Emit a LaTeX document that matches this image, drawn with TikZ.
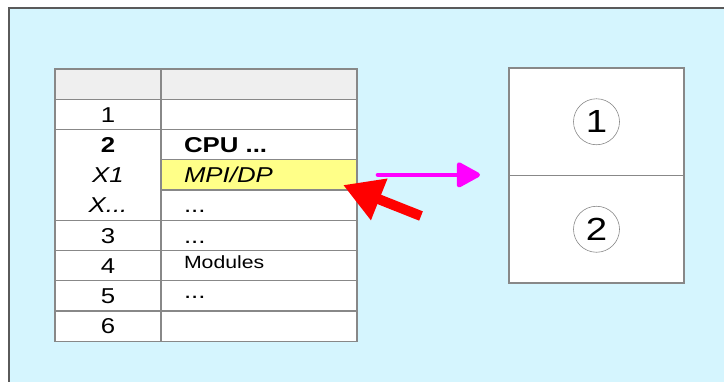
\documentclass[tikz,border=0pt]{standalone}
\usepackage{fontspec}
\setmainfont{Liberation Sans}[FakeStretch=1.2]
\usepackage{tikz}
\usetikzlibrary{positioning, calc, arrows.meta}
\usepackage{xcolor}
\definecolor{panelbg}{RGB}{213,245,254}
\definecolor{panelframe}{RGB}{90,90,90}
\definecolor{gridgray}{RGB}{136,136,136}
\definecolor{headgray}{RGB}{239,239,239}
\definecolor{markyellow}{RGB}{255,255,136}
\definecolor{linkpink}{RGB}{255,0,255}
\definecolor{hintred}{RGB}{255,0,0}
\newcommand{\tabfont}{\fontsize{21.5}{24}\selectfont}

\begin{document}
\begin{tikzpicture}[
        x=1pt, y=-1pt,
        every node/.style={inner sep=0pt, outer sep=0pt},
        cellA/.style={rectangle, draw=gridgray, line width=1.2pt, fill=white, minimum width=106pt, minimum height=30.25pt, font=\tabfont, text height=15.5pt, text depth=0pt},
        cellB/.style={cellA, minimum width=196pt},
        slot/.style={rectangle, draw=gridgray, line width=1.2pt, fill=white, minimum width=175pt, minimum height=107.5pt},
        num/.style={circle, draw=gridgray, line width=0.6pt, minimum size=46pt, font=\fontsize{32}{36}\selectfont},
        txt/.style={font=\tabfont, text height=15.5pt, text depth=0pt},
        smalltxt/.style={font=\fontsize{17.7}{20}\selectfont, text height=12.7pt, text depth=0pt},
        pinkarrow/.style={draw=linkpink, line width=4.7pt, line cap=round, -{Triangle[length=26pt, width=27pt, round]}},
        redarrow/.style={draw=hintred, line width=10pt, -{Triangle[length=39pt, width=42pt]}}
    ]
        \useasboundingbox (0,0) rectangle (724,381);
        \draw[draw=panelframe, fill=panelbg, line width=1.5pt] (9,8) rectangle (740,400);

        % table
        \node [cellA, fill=headgray, anchor=north west] (hdrA) at (55,69) {};
        \node [cellB, fill=headgray, right=0pt of hdrA] (hdrB) {};
        \node [cellA, below=0pt of hdrA] (rowA1) {1};
        \node [cellB, below=0pt of hdrB] (rowB1) {};
        \node [cellA, minimum height=90.75pt, below=0pt of rowA1] (rowA2) {};
        \node [cellB, below=0pt of rowB1] (cpu) {};
        \node [cellB, fill=markyellow, below=0pt of cpu] (mpi) {};
        \node [cellB, below=0pt of mpi] (xdots) {};
        \node [cellA, below=0pt of rowA2] (rowA3) {3};
        \node [cellB, below=0pt of xdots] (rowB3) {};
        \node [cellA, below=0pt of rowA3] (rowA4) {4};
        \node [cellB, below=0pt of rowB3] (rowB4) {};
        \node [cellA, below=0pt of rowA4] (rowA5) {5};
        \node [cellB, below=0pt of rowB4] (rowB5) {};
        \node [cellA, below=0pt of rowA5] (rowA6) {6};
        \node [cellB, below=0pt of rowB5] (rowB6) {};

        \node [txt, font=\tabfont\bfseries] (slotNo) at (rowA2 |- cpu) {2};
        \node [txt, font=\tabfont\itshape] (portX1) at (rowA2 |- mpi) {X1};
        \node [txt, font=\tabfont\itshape] (portXn) at (rowA2 |- xdots) {X...};

        \node [txt, anchor=west, font=\tabfont\bfseries] (cpuText) at ([xshift=23pt]cpu.west) {CPU ...};
        \node [txt, anchor=west, font=\tabfont\itshape] (mpiText) at ([xshift=23pt]mpi.west) {MPI/DP};
        \node [txt, anchor=west] (xdotsText) at ([xshift=23pt]xdots.west) {...};
        \node [txt, anchor=west] (row3Text) at ([xshift=23pt]rowB3.west) {...};
        \node [smalltxt, anchor=west, yshift=3.3pt] (modText) at ([xshift=23pt]rowB4.west) {Modules};
        \node [txt, anchor=west, yshift=5pt] (row5Text) at ([xshift=23pt]rowB5.west) {...};

        % slots
        \node [slot, anchor=north west] (slot1) at (509,68) {};
        \node [slot, below=0pt of slot1] (slot2) {};
        \node [num] (num1) at (slot1) {1};
        \node [num] (num2) at (slot2) {2};

        % arrows
        \coordinate (pinkFrom) at ($(mpi.east)+(21,0)$);
        \coordinate (pinkTo) at ($(mpi.east -| slot1.west)+(-29,0)$);
        \coordinate (redTail) at ($(mpi.south east)+(64,26)$);
        \coordinate (redTip) at ($(mpi.south east)+(-14,-5)$);
        \draw [pinkarrow] (pinkFrom) -- (pinkTo);
        \draw [redarrow] (redTail) -- (redTip);
    \end{tikzpicture}
\end{document}
